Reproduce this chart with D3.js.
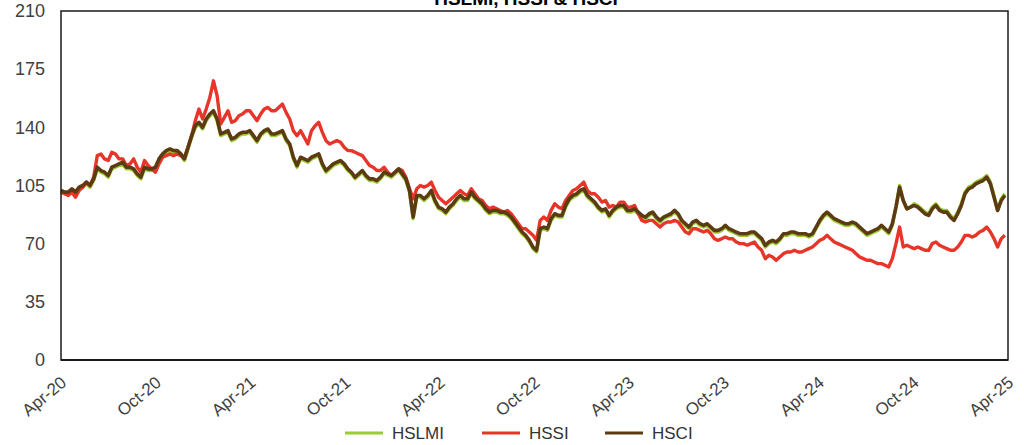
<!DOCTYPE html>
<html><head><meta charset="utf-8">
<script src="https://cdn.jsdelivr.net/npm/d3@7"></script>
<style>body{margin:0;background:#fff}svg{display:block}</style>
</head><body><svg id="c" width="1024" height="445"></svg>
<script>
const title = "HSLMI, HSSI & HSCI";
const seriesNames = ["HSLMI", "HSSI", "HSCI"];
const seriesColors = ["#9ACD32", "#E8352A", "#5C3B12"];
const startDate = "2020-04-01"; // weekly observations
const xTickLabels = ["Apr-20","Oct-20","Apr-21","Oct-21","Apr-22","Oct-22","Apr-23","Oct-23","Apr-24","Oct-24","Apr-25"];
const yTicks = [0, 35, 70, 105, 140, 175, 210];

const hssi = [
101,100,99,101,98,102,104,107,105,110,
123,124,121,120,125,124,121,121,117,118,
121,116,113,120,117,115,113,118,122,123,
124,123,124,123,122,128,135,144,151,145,
151,158,168,159,142,146,150,143,144,147,
148,150,150,147,144,148,151,152,150,150,
152,154,149,145,138,135,138,134,130,138,
141,143,137,132,130,131,132,131,128,126,
126,125,124,123,120,117,116,114,114,116,
113,111,113,115,114,110,103,97,103,105,
104,105,107,102,98,96,94,96,98,100,
102,100,99,103,100,97,96,93,91,92,
91,90,89,90,88,85,82,79,79,77,
75,72,84,86,84,90,94,92,91,96,
99,102,103,105,107,102,100,100,98,95,
96,92,93,92,95,95,92,92,93,88,
84,83,84,84,82,80,82,83,83,84,
83,80,77,76,79,79,78,77,78,76,
73,72,73,74,73,73,71,70,70,69,
70,71,68,66,61,63,62,60,62,64,
65,65,66,65,65,66,67,68,70,72,
73,75,73,71,70,69,68,67,66,64,
62,61,60,60,59,58,58,57,56,61,
70,80,68,69,68,67,68,67,66,66,
70,71,69,68,67,66,66,68,71,75,
75,74,75,77,78,80,77,73,68,73,75];

const hsci = [
102,101,101,103,101,104,105,107,105,109,
116,114,113,111,116,117,118,119,116,116,
115,112,110,116,115,115,116,121,124,126,
127,126,126,124,121,128,135,141,143,140,
145,148,150,145,136,137,138,133,134,136,
137,137,138,135,132,136,138,139,136,136,
137,138,133,130,122,117,122,121,120,122,
123,124,118,114,116,118,119,120,118,115,
113,110,112,114,111,109,109,108,110,113,
112,111,113,115,112,109,102,86,99,99,
97,99,102,96,92,91,89,92,94,97,
99,97,97,101,98,96,94,91,89,90,
90,89,89,88,86,83,80,77,75,72,
68,66,79,80,79,85,88,87,87,93,
97,99,100,102,103,99,97,95,92,90,
91,87,90,92,93,93,90,90,91,89,
87,86,88,89,86,84,86,87,88,90,
88,84,82,80,83,84,82,81,82,80,
78,78,79,81,79,78,77,76,76,76,
77,77,75,73,69,71,72,71,73,76,
76,77,77,76,76,76,75,76,80,84,
87,89,87,85,84,83,82,82,83,82,
80,78,76,77,78,79,81,79,77,82,
92,104,96,91,92,93,92,90,88,87,
91,93,90,89,89,86,84,88,93,100,
103,104,106,107,108,110,106,98,90,96,99];

const hslmi = [
101,100,100,102,100,103,104,106,104,108,
115,113,112,110,115,116,117,118,115,115,
114,111,109,115,114,114,115,120,123,125,
126,125,125,123,120,127,134,140,142,139,
144,147,149,144,135,136,137,132,133,135,
136,136,137,134,131,135,137,138,135,135,
136,137,132,129,121,116,121,120,119,121,
122,123,117,113,115,117,118,119,117,114,
112,109,111,113,110,108,108,107,109,112,
111,110,112,114,111,108,101,85,98,98,
96,98,101,95,91,90,88,91,93,96,
98,96,96,100,97,95,93,90,88,89,
89,88,88,87,85,82,79,76,74,71,
67,65,78,79,78,84,87,86,86,92,
96,98,99,101,102,98,96,94,91,89,
90,86,89,91,92,92,89,89,90,88,
86,85,87,88,85,83,85,86,87,89,
87,83,81,79,82,83,81,80,81,79,
77,77,78,80,78,77,76,75,75,75,
76,76,74,72,68,70,71,70,72,75,
75,76,76,75,75,75,74,75,79,83,
86,88,86,84,83,82,81,81,82,81,
79,77,75,76,77,78,80,78,76,81,
92,105,96,91,92,94,93,91,89,88,
92,94,91,90,90,87,85,89,94,101,
104,105,107,108,109,111,107,99,90,97,100];

const svg = d3.select("#c");
const L = 61, R = 1008, T = 11, B = 360;
const FONT = "Liberation Sans, Arial, sans-serif";
const parse = d3.timeParse("%Y-%m-%d");
const t0 = parse(startDate);
const dates = hssi.map((_, i) => d3.timeDay.offset(t0, 7 * i));
const x = d3.scaleTime().domain([t0, parse("2025-04-01")]).range([L, R]);
const y = d3.scaleLinear().domain([0, 210]).range([B, T]);
const tickDates = xTickLabels.map((_, i) => d3.timeMonth.offset(t0, 6 * i));

// title (partly above the top edge, as in the reference)
svg.append("text").attr("x", 526).attr("y", 5).attr("text-anchor", "middle")
  .attr("font-family", FONT).attr("font-weight", "bold")
  .attr("font-size", 19).attr("fill", "#000").text(title);

// y axis labels
const yAxis = d3.axisLeft(y).tickValues(yTicks).tickSize(0).tickPadding(16);
const gy = svg.append("g").attr("transform", `translate(${L},0)`).call(yAxis);
gy.select(".domain").remove();
gy.selectAll("text").attr("font-family", FONT)
  .attr("font-size", 18).attr("fill", "#404040");

// x axis labels
const xAxis = d3.axisBottom(x).tickValues(tickDates).tickFormat((d, i) => xTickLabels[i]).tickSize(0);
const gx = svg.append("g").attr("transform", `translate(0,${B})`).call(xAxis);
gx.select(".domain").remove();
gx.selectAll("text").attr("font-family", FONT)
  .attr("font-size", 17).attr("fill", "#404040")
  .attr("text-anchor", "end").attr("dy", 0)
  .attr("transform", "translate(4,22) rotate(-40)");

// lines
const series = [hslmi, hssi, hsci];
const line = d3.line().x((d, i) => x(dates[i])).y(d => y(d));
series.forEach((s, k) => {
  svg.append("path").datum(s).attr("d", line)
    .attr("fill", "none").attr("stroke", seriesColors[k])
    .attr("stroke-width", k === 2 ? 3.6 : 3.4).attr("stroke-linejoin", "round");
});

// frame
svg.append("rect").attr("x", L).attr("y", T).attr("width", R - L).attr("height", B - T)
  .attr("fill", "none").attr("stroke", "#1a1a1a").attr("stroke-width", 1.5);
svg.append("line").attr("x1", L).attr("x2", R).attr("y1", B).attr("y2", B)
  .attr("stroke", "#1a1a1a").attr("stroke-width", 2);

// legend
const legX = [345, 482, 605];
const lg = svg.append("g");
seriesNames.forEach((n, k) => {
  lg.append("line").attr("x1", legX[k]).attr("x2", legX[k] + 38).attr("y1", 433).attr("y2", 433)
    .attr("stroke", seriesColors[k]).attr("stroke-width", 3);
  lg.append("text").attr("x", legX[k] + 47).attr("y", 439)
    .attr("font-family", FONT).attr("font-size", 17)
    .attr("fill", "#333").text(n);
});
</script></body></html>
